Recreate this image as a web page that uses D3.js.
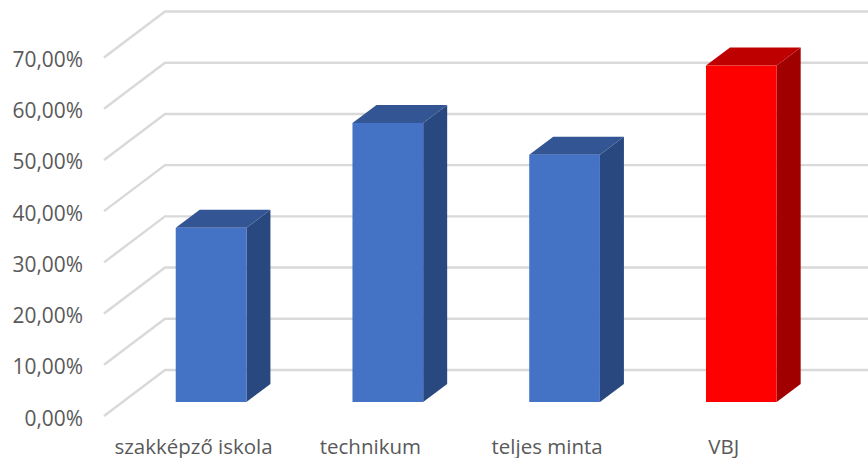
<!DOCTYPE html>
<html><head><meta charset="utf-8">
<script src="https://cdn.jsdelivr.net/npm/d3@7"></script>
<style>html,body{margin:0;padding:0;background:#fff}svg{display:block}text{font-family:"Open Sans",sans-serif;fill:#595959}</style>
</head><body><div id="c"></div>
<script>
const categories = ["szakképző iskola","technikum","teljes minta","VBJ"];
const values = [34.0,54.5,48.3,65.7];
const tickValues = [0,10,20,30,40,50,60,70];
const tickLabels = ["0,00%","10,00%","20,00%","30,00%","40,00%","50,00%","60,00%","70,00%"];
const frontColors = ["#4472C4","#4472C4","#4472C4","#FF0000"];
const topColors = ["#335593","#335593","#335593","#BF0000"];
const sideColors = ["#2A4880","#2A4880","#2A4880","#A00000"];

const W=868,H=458;
const svg=d3.select("#c").append("svg").attr("width",W).attr("height",H);
const y=d3.scaleLinear().domain([0,70]).range([416,57.5]);
const x=d3.scaleBand().domain(categories).range([122.7,829.7]).paddingInner(.6).paddingOuter(.3);
const wallDX=61,wallDY=-46, barLift=14, dX=24,dY=-18;

const g=svg.append("g");
g.selectAll("path.grid").data(tickValues).join("path").attr("class","grid")
 .attr("fill","none").attr("stroke","#D9D9D9").attr("stroke-width",2.4)
 .attr("d",v=>d3.line()([[104,y(v)],[104+wallDX,y(v)+wallDY],[W,y(v)+wallDY]]));

g.selectAll("text.tick").data(tickValues).join("text").attr("class","tick")
 .attr("x",83).attr("y",v=>y(v)+1.5).attr("text-anchor","end").attr("dominant-baseline","central")
 .attr("font-size",20.9).text((v,i)=>tickLabels[i]);

const yb=v=>y(v)-barLift;
const bars=g.selectAll("g.bar").data(categories).join("g").attr("class","bar");
bars.append("path").attr("fill",(c,i)=>sideColors[i]).attr("d",(c,i)=>{
  const r=x(c)+x.bandwidth();
  return d3.line()([[r,yb(values[i])],[r+dX,yb(values[i])+dY],[r+dX,yb(0)+dY],[r,yb(0)]])+"Z";});
bars.append("path").attr("fill",(c,i)=>topColors[i]).attr("d",(c,i)=>{
  const l=x(c),r=l+x.bandwidth(),t=yb(values[i]);
  return d3.line()([[l,t],[l+dX,t+dY],[r+dX,t+dY],[r,t]])+"Z";});
bars.append("rect").attr("fill",(c,i)=>frontColors[i])
 .attr("x",c=>x(c)).attr("width",x.bandwidth())
 .attr("y",(c,i)=>yb(values[i])).attr("height",(c,i)=>yb(0)-yb(values[i]));

g.selectAll("text.cat").data(categories).join("text").attr("class","cat")
 .attr("x",c=>x(c)+x.bandwidth()/2-17.5).attr("y",445.5).attr("text-anchor","middle")
 .attr("dominant-baseline","central").attr("font-size",20.5).text(c=>c);
</script></body></html>
